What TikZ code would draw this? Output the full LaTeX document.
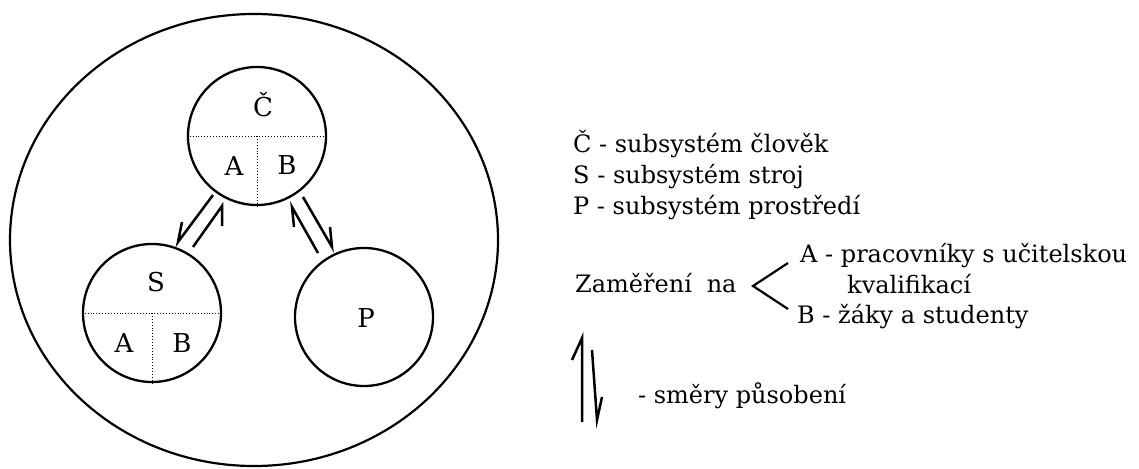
\documentclass[tikz,border=0pt]{standalone}
\usepackage{fontspec}
\setmainfont{DejaVu Serif}
\usetikzlibrary{calc}
\begin{document}
\begin{tikzpicture}[x=1pt,y=-1pt,
  sub/.style={draw, circle, line width=2.3pt, minimum size=138pt, inner sep=0pt},
  dots/.style={line width=0.9pt, dotted},
  conn/.style={line width=2.5pt, line join=miter, miter limit=10},
  lbl/.style={font=\fontsize{26}{30}\selectfont, inner sep=0pt, anchor=base},
  txt/.style={font=\fontsize{24}{28}\selectfont, anchor=base west, inner sep=0pt}]
\useasboundingbox (0,0) rectangle (1139,468);
% environment
\draw[line width=2.2pt] (254,240) ellipse [x radius=244, y radius=226];
% subsystems
\node[sub] (C) at (257,136) {};
\node[sub] (S) at (152,313) {};
\node[sub] (P) at (364,317) {};
\draw[dots] (C.west) -- (C.east);
\draw[dots] (C.center) -- (C.south);
\draw[dots] (S.west) -- (S.east);
\draw[dots] (S.center) -- (S.south);
\node[lbl] (Ct) at (263,117) {Č};
\node[lbl] (CA) at (234,175) {A};
\node[lbl] (CB) at (287,174) {B};
\node[lbl] (St) at (156,291) {S};
\node[lbl] (SA) at (124,352) {A};
\node[lbl] (SB) at (182,352) {B};
\node[lbl] (Pt) at (366,327) {P};
% harpoons
\coordinate (l1a) at (213,195); \coordinate (l1t) at (178,242); \coordinate (l1b) at (182,222);
\coordinate (l2a) at (193,247); \coordinate (l2t) at (222,206); \coordinate (l2b) at (222,226);
\coordinate (r1a) at (318,253); \coordinate (r1t) at (292,207); \coordinate (r1b) at (294,227);
\coordinate (r2a) at (303,197); \coordinate (r2t) at (332,247); \coordinate (r2b) at (330,227);
\draw[conn] (l1a) -- (l1t) -- (l1b);
\draw[conn] (l2a) -- (l2t) -- (l2b);
\draw[conn] (r1a) -- (r1t) -- (r1b);
\draw[conn] (r2a) -- (r2t) -- (r2b);
% legend
\node[txt] (t1) at (573,152) {Č - subsystém člověk};
\node[txt] (t2) at (573,183) {S - subsystém stroj};
\node[txt] (t3) at (573,214) {P - subsystém prostředí};
\node[txt] (t4) at (575,292) {Zaměření\hspace{0.3em} na};
\node[txt] (t5) at (800,262) {A - pracovníky s učitelskou};
\node[txt] (t6) at (847,293) {kvalifikací};
\node[txt] (t7) at (797,323) {B - žáky a studenty};
\coordinate (bu) at (788,263); \coordinate (bm) at (753,286); \coordinate (bl) at (788,309);
\draw[line width=2.2pt] (bu) -- (bm) -- (bl);
\coordinate (ua) at (582,422); \coordinate (ut) at (582,338); \coordinate (ub) at (572,360);
\coordinate (da) at (592,350); \coordinate (dt) at (597,420); \coordinate (db) at (602,397);
\draw[conn] (ua) -- (ut) -- (ub);
\draw[conn] (da) -- (dt) -- (db);
\node[txt] (t8) at (638,403) {- směry působení};
\end{tikzpicture}
\end{document}
